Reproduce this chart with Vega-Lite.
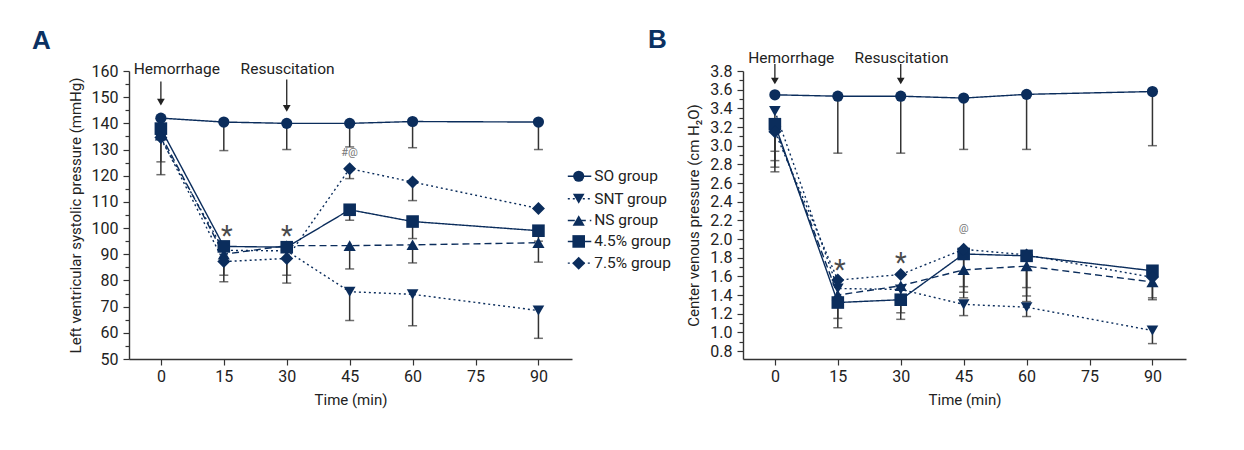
{
  "$schema": "https://vega.github.io/schema/vega-lite/v6.json",
  "autosize": {"type": "pad"},
  "padding": {"left": 32, "top": 26, "right": 5, "bottom": 5},
  "background": "white",
  "config": {
    "font": "Roboto, sans-serif",
    "view": {"stroke": null},
    "axis": {
      "domainColor": "#333333", "tickColor": "#333333", "labelColor": "#222222", "titleColor": "#222222",
      "labelFontSize": 16, "titleFontSize": 15, "titleFontWeight": "normal", "grid": false,
      "domainWidth": 1.4, "tickWidth": 1.2, "labelOverlap": false, "labelBound": false, "labelFlush": false
    }
  },
  "bounds": "flush",
  "spacing": 171,
  "datasets": {
    "lvsp": [
      {"t": 0, "g": "SO group", "v": 142, "lo": null},
      {"t": 15, "g": "SO group", "v": 140.5, "lo": 129.6},
      {"t": 30, "g": "SO group", "v": 140, "lo": 130},
      {"t": 45, "g": "SO group", "v": 140, "lo": 131},
      {"t": 60, "g": "SO group", "v": 140.7, "lo": 130.7},
      {"t": 90, "g": "SO group", "v": 140.5, "lo": 130},
      {"t": 0, "g": "SNT group", "v": 134, "lo": 120.4},
      {"t": 15, "g": "SNT group", "v": 91.5, "lo": 82},
      {"t": 30, "g": "SNT group", "v": 91.3, "lo": 82},
      {"t": 45, "g": "SNT group", "v": 75.7, "lo": 64.7},
      {"t": 60, "g": "SNT group", "v": 74.7, "lo": 62.7},
      {"t": 90, "g": "SNT group", "v": 68.5, "lo": 57.9},
      {"t": 0, "g": "NS group", "v": 135.5, "lo": 125.3},
      {"t": 15, "g": "NS group", "v": 90, "lo": null},
      {"t": 30, "g": "NS group", "v": 93.3, "lo": null},
      {"t": 45, "g": "NS group", "v": 93.3, "lo": 84.4},
      {"t": 60, "g": "NS group", "v": 93.6, "lo": 86.7},
      {"t": 90, "g": "NS group", "v": 94.4, "lo": 87},
      {"t": 0, "g": "4.5% group", "v": 138, "lo": null},
      {"t": 15, "g": "4.5% group", "v": 93, "lo": null},
      {"t": 30, "g": "4.5% group", "v": 92.7, "lo": null},
      {"t": 45, "g": "4.5% group", "v": 107, "lo": 103},
      {"t": 60, "g": "4.5% group", "v": 102.5, "lo": 96},
      {"t": 90, "g": "4.5% group", "v": 99, "lo": 95},
      {"t": 0, "g": "7.5% group", "v": 134.6, "lo": null},
      {"t": 15, "g": "7.5% group", "v": 87.2, "lo": 79.5},
      {"t": 30, "g": "7.5% group", "v": 88.4, "lo": 79},
      {"t": 45, "g": "7.5% group", "v": 122.7, "lo": 118.9},
      {"t": 60, "g": "7.5% group", "v": 117.6, "lo": 110.5},
      {"t": 90, "g": "7.5% group", "v": 107.5, "lo": null}
    ],
    "cvp": [
      {"t": 0, "g": "SO group", "v": 3.545, "lo": null},
      {"t": 15, "g": "SO group", "v": 3.53, "lo": 2.92},
      {"t": 30, "g": "SO group", "v": 3.53, "lo": 2.92},
      {"t": 45, "g": "SO group", "v": 3.51, "lo": 2.96},
      {"t": 60, "g": "SO group", "v": 3.55, "lo": 2.96},
      {"t": 90, "g": "SO group", "v": 3.58, "lo": 3.0},
      {"t": 0, "g": "SNT group", "v": 3.37, "lo": 2.72},
      {"t": 15, "g": "SNT group", "v": 1.47, "lo": null},
      {"t": 30, "g": "SNT group", "v": 1.46, "lo": null},
      {"t": 45, "g": "SNT group", "v": 1.3, "lo": 1.18},
      {"t": 60, "g": "SNT group", "v": 1.27, "lo": 1.17},
      {"t": 90, "g": "SNT group", "v": 1.02, "lo": 0.88},
      {"t": 0, "g": "NS group", "v": 3.2, "lo": 2.84},
      {"t": 15, "g": "NS group", "v": 1.4, "lo": 1.15},
      {"t": 30, "g": "NS group", "v": 1.5, "lo": 1.21},
      {"t": 45, "g": "NS group", "v": 1.67, "lo": 1.37},
      {"t": 60, "g": "NS group", "v": 1.71, "lo": 1.33},
      {"t": 90, "g": "NS group", "v": 1.54, "lo": 1.35},
      {"t": 0, "g": "4.5% group", "v": 3.23, "lo": 2.94},
      {"t": 15, "g": "4.5% group", "v": 1.32, "lo": 1.05},
      {"t": 30, "g": "4.5% group", "v": 1.35, "lo": 1.14},
      {"t": 45, "g": "4.5% group", "v": 1.84, "lo": 1.49},
      {"t": 60, "g": "4.5% group", "v": 1.82, "lo": 1.48},
      {"t": 90, "g": "4.5% group", "v": 1.66, "lo": 1.37},
      {"t": 0, "g": "7.5% group", "v": 3.15, "lo": 2.77},
      {"t": 15, "g": "7.5% group", "v": 1.56, "lo": null},
      {"t": 30, "g": "7.5% group", "v": 1.62, "lo": null},
      {"t": 45, "g": "7.5% group", "v": 1.89, "lo": 1.43},
      {"t": 60, "g": "7.5% group", "v": 1.83, "lo": 1.39},
      {"t": 90, "g": "7.5% group", "v": 1.59, "lo": null}
    ],
    "legendA": [
      {"g": "SO group", "x0": 97.0, "x1": 102.6, "xm": 99.6, "xt": 103.3, "y": 119.8},
      {"g": "SNT group", "x0": 97.0, "x1": 102.6, "xm": 99.6, "xt": 103.3, "y": 111.2},
      {"g": "NS group", "x0": 97.0, "x1": 102.6, "xm": 99.6, "xt": 103.3, "y": 102.9},
      {"g": "4.5% group", "x0": 97.0, "x1": 102.6, "xm": 99.6, "xt": 103.3, "y": 94.9},
      {"g": "7.5% group", "x0": 97.0, "x1": 102.6, "xm": 99.6, "xt": 103.3, "y": 86.6}
    ],
    "notesA": [
      {"kind": "label", "t": 3.8, "v": 158.7, "text": "Hemorrhage"},
      {"kind": "label", "t": 30.2, "v": 158.7, "text": "Resuscitation"},
      {"kind": "star", "t": 15.7, "v": 96.6, "text": "*"},
      {"kind": "star", "t": 30.0, "v": 96.6, "text": "*"},
      {"kind": "note", "t": 45, "v": 128.5, "text": "#@"}
    ],
    "arrowsA": [
      {"t": 0, "y0": 156.0, "y1": 149.0, "yh": 148.1},
      {"t": 30, "y0": 156.8, "y1": 146.5, "yh": 145.7}
    ],
    "notesB": [
      {"kind": "label", "t": 3.9, "v": 3.889, "text": "Hemorrhage"},
      {"kind": "label", "t": 30.2, "v": 3.889, "text": "Resuscitation"},
      {"kind": "star", "t": 15.5, "v": 1.66, "text": "*"},
      {"kind": "star", "t": 30.0, "v": 1.73, "text": "*"},
      {"kind": "note", "t": 45, "v": 2.105, "text": "@"}
    ],
    "arrowsB": [
      {"t": 0, "y0": 3.875, "y1": 3.72, "yh": 3.693},
      {"t": 30, "y0": 3.875, "y1": 3.72, "yh": 3.693}
    ]
  },
  "hconcat": [
    {
      "width": 443,
      "height": 288,
      "title": {"text": "A", "anchor": "start", "frame": "group", "fontSize": 26, "fontWeight": "bold", "color": "#0b3162", "dx": -97, "dy": -4, "font": "Liberation Sans, DejaVu Sans, sans-serif"},
      "layer": [
        {
          "data": {"name": "lvsp"},
          "transform": [{"filter": "datum.lo != null"}],
          "mark": {"type": "rule", "color": "#333333", "strokeWidth": 1.5},
          "encoding": {
            "x": {"field": "t", "type": "quantitative", "scale": {"domain": [-7.6, 98], "nice": false, "zero": false},
              "axis": {"values": [0, 15, 30, 45, 60, 75, 90], "tickCount": 50, "title": "Time (min)", "tickSize": 6, "labelPadding": 3, "titlePadding": 8}},
            "y": {"field": "v", "type": "quantitative", "scale": {"domain": [50, 160], "nice": false, "zero": false},
              "axis": {"values": [50, 55, 60, 65, 70, 75, 80, 85, 90, 95, 100, 105, 110, 115, 120, 125, 130, 135, 140, 145, 150, 155, 160],
                "tickCount": 50,
                "labelExpr": "datum.value % 10 == 0 ? datum.label : ''",
                "tickSize": {"condition": {"test": "datum.value % 10 != 0", "value": 4}, "value": 6},
                "labelPadding": 5, "titlePadding": 8, "title": "Left ventricular systolic pressure (mmHg)"}},
            "y2": {"field": "lo"}
          }
        },
        {
          "data": {"name": "lvsp"},
          "transform": [{"filter": "datum.lo != null"}],
          "mark": {"type": "tick", "orient": "horizontal", "size": 9, "thickness": 1.5, "color": "#333333"},
          "encoding": {
            "x": {"field": "t", "type": "quantitative"},
            "y": {"field": "lo", "type": "quantitative"}
          }
        },
        {
          "data": {"name": "lvsp"},
          "mark": {"type": "line", "color": "#0b2d5c", "strokeWidth": 1.4},
          "encoding": {
            "x": {"field": "t", "type": "quantitative"},
            "y": {"field": "v", "type": "quantitative"},
            "strokeDash": {"field": "g", "type": "nominal",
              "scale": {"domain": ["SO group", "SNT group", "NS group", "4.5% group", "7.5% group"], "range": [[1, 0], [2, 3], [7, 4], [1, 0], [2, 3]]},
              "legend": null}
          }
        },
        {
          "data": {"name": "lvsp"},
          "mark": {"type": "point", "filled": true, "opacity": 1, "color": "#0b2d5c"},
          "encoding": {
            "x": {"field": "t", "type": "quantitative"},
            "y": {"field": "v", "type": "quantitative"},
            "shape": {"field": "g", "type": "nominal",
              "scale": {"domain": ["SO group", "SNT group", "NS group", "4.5% group", "7.5% group"], "range": ["circle", "triangle-down", "triangle-up", "square", "diamond"]},
              "legend": null},
            "size": {"field": "g", "type": "nominal",
              "scale": {"domain": ["SO group", "SNT group", "NS group", "4.5% group", "7.5% group"], "range": [125, 170, 170, 140, 240]},
              "legend": null}
          }
        },
        {
          "data": {"name": "legendA"},
          "mark": {"type": "rule", "color": "#0b2d5c", "strokeWidth": 1.4},
          "encoding": {
            "x": {"field": "x0", "type": "quantitative"},
            "x2": {"field": "x1"},
            "y": {"field": "y", "type": "quantitative"},
            "strokeDash": {"field": "g", "type": "nominal", "legend": null}
          }
        },
        {
          "data": {"name": "legendA"},
          "mark": {"type": "point", "filled": true, "opacity": 1, "color": "#0b2d5c"},
          "encoding": {
            "x": {"field": "xm", "type": "quantitative"},
            "y": {"field": "y", "type": "quantitative"},
            "shape": {"field": "g", "type": "nominal", "legend": null},
            "size": {"field": "g", "type": "nominal", "legend": null}
          }
        },
        {
          "data": {"name": "legendA"},
          "mark": {"type": "text", "align": "left", "baseline": "middle", "fontSize": 15.5, "color": "#222222"},
          "encoding": {
            "x": {"field": "xt", "type": "quantitative"},
            "y": {"field": "y", "type": "quantitative"},
            "text": {"field": "g"}
          }
        },
        {
          "data": {"name": "arrowsA"},
          "mark": {"type": "rule", "color": "#222222", "strokeWidth": 1.3},
          "encoding": {
            "x": {"field": "t", "type": "quantitative"},
            "y": {"field": "y0", "type": "quantitative"},
            "y2": {"field": "y1"}
          }
        },
        {
          "data": {"name": "arrowsA"},
          "mark": {"type": "point", "shape": "triangle-down", "filled": true, "opacity": 1, "color": "#222222", "size": 60},
          "encoding": {
            "x": {"field": "t", "type": "quantitative"},
            "y": {"field": "yh", "type": "quantitative"}
          }
        },
        {
          "data": {"name": "notesA"},
          "transform": [{"filter": "datum.kind == 'label'"}],
          "mark": {"type": "text", "align": "center", "baseline": "alphabetic", "fontSize": 15.5, "color": "#222222"},
          "encoding": {
            "x": {"field": "t", "type": "quantitative"},
            "y": {"field": "v", "type": "quantitative"},
            "text": {"field": "text"}
          }
        },
        {
          "data": {"name": "notesA"},
          "transform": [{"filter": "datum.kind == 'star'"}],
          "mark": {"type": "text", "align": "center", "baseline": "middle", "fontSize": 27, "color": "#4a4a4a"},
          "encoding": {
            "x": {"field": "t", "type": "quantitative"},
            "y": {"field": "v", "type": "quantitative"},
            "text": {"field": "text"}
          }
        },
        {
          "data": {"name": "notesA"},
          "transform": [{"filter": "datum.kind == 'note'"}],
          "mark": {"type": "text", "align": "center", "baseline": "middle", "fontSize": 11, "color": "#777777"},
          "encoding": {
            "x": {"field": "t", "type": "quantitative"},
            "y": {"field": "v", "type": "quantitative"},
            "text": {"field": "text"}
          }
        }
      ]
    },
    {
      "width": 443,
      "height": 288,
      "title": {"text": "B", "anchor": "start", "frame": "group", "fontSize": 26, "fontWeight": "bold", "color": "#0b3162", "dx": -95, "dy": 6, "font": "Liberation Sans, DejaVu Sans, sans-serif"},
      "layer": [
        {
          "data": {"name": "cvp"},
          "transform": [{"filter": "datum.lo != null"}],
          "mark": {"type": "rule", "color": "#333333", "strokeWidth": 1.5},
          "encoding": {
            "x": {"field": "t", "type": "quantitative", "scale": {"domain": [-7.6, 98], "nice": false, "zero": false},
              "axis": {"values": [0, 15, 30, 45, 60, 75, 90], "tickCount": 50, "title": "Time (min)", "tickSize": 6, "labelPadding": 3, "titlePadding": 8}},
            "y": {"field": "v", "type": "quantitative", "scale": {"domain": [0.715, 3.8], "nice": false, "zero": false},
              "axis": {"values": [0.8, 0.9, 1.0, 1.1, 1.2, 1.3, 1.4, 1.5, 1.6, 1.7, 1.8, 1.9, 2.0, 2.1, 2.2, 2.3, 2.4, 2.5, 2.6, 2.7, 2.8, 2.9, 3.0, 3.1, 3.2, 3.3, 3.4, 3.5, 3.6, 3.7, 3.8],
                "tickCount": 50,
                "format": ".1f",
                "labelExpr": "round(datum.value * 10) % 2 == 0 ? datum.label : ''",
                "tickSize": {"condition": {"test": "round(datum.value * 10) % 2 != 0", "value": 4}, "value": 6},
                "labelPadding": 5, "titlePadding": 8, "title": "Center venous pressure (cm H₂O)"}},
            "y2": {"field": "lo"}
          }
        },
        {
          "data": {"name": "cvp"},
          "transform": [{"filter": "datum.lo != null"}],
          "mark": {"type": "tick", "orient": "horizontal", "size": 9, "thickness": 1.5, "color": "#333333"},
          "encoding": {
            "x": {"field": "t", "type": "quantitative"},
            "y": {"field": "lo", "type": "quantitative"}
          }
        },
        {
          "data": {"name": "cvp"},
          "mark": {"type": "line", "color": "#0b2d5c", "strokeWidth": 1.4},
          "encoding": {
            "x": {"field": "t", "type": "quantitative"},
            "y": {"field": "v", "type": "quantitative"},
            "strokeDash": {"field": "g", "type": "nominal",
              "scale": {"domain": ["SO group", "SNT group", "NS group", "4.5% group", "7.5% group"], "range": [[1, 0], [2, 3], [7, 4], [1, 0], [2, 3]]},
              "legend": null}
          }
        },
        {
          "data": {"name": "cvp"},
          "mark": {"type": "point", "filled": true, "opacity": 1, "color": "#0b2d5c"},
          "encoding": {
            "x": {"field": "t", "type": "quantitative"},
            "y": {"field": "v", "type": "quantitative"},
            "shape": {"field": "g", "type": "nominal",
              "scale": {"domain": ["SO group", "SNT group", "NS group", "4.5% group", "7.5% group"], "range": ["circle", "triangle-down", "triangle-up", "square", "diamond"]},
              "legend": null},
            "size": {"field": "g", "type": "nominal",
              "scale": {"domain": ["SO group", "SNT group", "NS group", "4.5% group", "7.5% group"], "range": [125, 170, 170, 140, 240]},
              "legend": null}
          }
        },
        {
          "data": {"name": "arrowsB"},
          "mark": {"type": "rule", "color": "#222222", "strokeWidth": 1.3},
          "encoding": {
            "x": {"field": "t", "type": "quantitative"},
            "y": {"field": "y0", "type": "quantitative"},
            "y2": {"field": "y1"}
          }
        },
        {
          "data": {"name": "arrowsB"},
          "mark": {"type": "point", "shape": "triangle-down", "filled": true, "opacity": 1, "color": "#222222", "size": 60},
          "encoding": {
            "x": {"field": "t", "type": "quantitative"},
            "y": {"field": "yh", "type": "quantitative"}
          }
        },
        {
          "data": {"name": "notesB"},
          "transform": [{"filter": "datum.kind == 'label'"}],
          "mark": {"type": "text", "align": "center", "baseline": "alphabetic", "fontSize": 15.5, "color": "#222222"},
          "encoding": {
            "x": {"field": "t", "type": "quantitative"},
            "y": {"field": "v", "type": "quantitative"},
            "text": {"field": "text"}
          }
        },
        {
          "data": {"name": "notesB"},
          "transform": [{"filter": "datum.kind == 'star'"}],
          "mark": {"type": "text", "align": "center", "baseline": "middle", "fontSize": 27, "color": "#4a4a4a"},
          "encoding": {
            "x": {"field": "t", "type": "quantitative"},
            "y": {"field": "v", "type": "quantitative"},
            "text": {"field": "text"}
          }
        },
        {
          "data": {"name": "notesB"},
          "transform": [{"filter": "datum.kind == 'note'"}],
          "mark": {"type": "text", "align": "center", "baseline": "middle", "fontSize": 11, "color": "#777777"},
          "encoding": {
            "x": {"field": "t", "type": "quantitative"},
            "y": {"field": "v", "type": "quantitative"},
            "text": {"field": "text"}
          }
        }
      ]
    }
  ]
}
